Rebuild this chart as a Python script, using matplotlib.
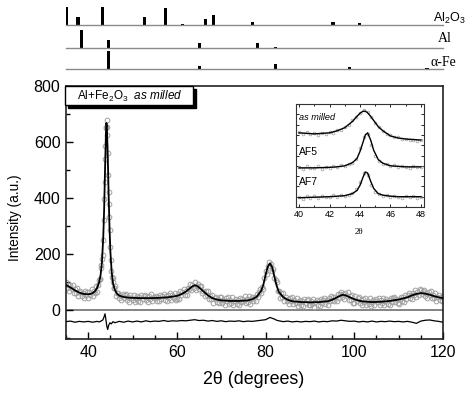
import numpy as np
import matplotlib
matplotlib.use("Agg")
import matplotlib.pyplot as plt
from matplotlib.patches import Rectangle
from matplotlib.ticker import MultipleLocator

plt.rcParams['font.family'] = ['Liberation Sans', 'DejaVu Sans']
plt.rcParams['mathtext.fontset'] = 'custom'
plt.rcParams['mathtext.rm'] = 'Liberation Sans'
plt.rcParams['mathtext.it'] = 'Liberation Sans:italic'

# ---------------- reference stick patterns (2theta, relative intensity) ----
al2o3_pos = [35.2, 37.7, 43.3, 52.6, 57.5, 61.3, 66.5, 68.2, 77.0, 95.2, 101.1]
al2o3_int = [1.00, 0.42, 1.00, 0.45, 0.96, 0.05, 0.35, 0.55, 0.15, 0.15, 0.13]
al_pos = [38.4, 44.6, 65.0, 78.2, 82.3, 98.9]
al_int = [1.00, 0.45, 0.27, 0.27, 0.07, 0.02]
fe_pos = [44.6, 65.0, 82.3, 98.9, 116.4]
fe_int = [1.00, 0.19, 0.30, 0.09, 0.06]
phase_labels = ["Al$_2$O$_3$", "Al", "\u03b1-Fe"]

# ---------------- main pattern: calculated (fit) curve ----------------
fit_2theta = [35, 35.5, 36, 36.5, 37, 37.5, 38, 38.5, 39, 39.5, 40, 40.5, 41, 41.5,
              42, 42.5, 42.8, 43.1, 43.4, 43.6, 43.8, 44.0, 44.1, 44.2, 44.4, 44.6,
              44.8, 45.0, 45.3, 45.6, 46, 46.5, 47, 48, 49, 50, 52, 54, 56, 58, 60,
              61, 62, 63, 63.5, 64, 64.5, 65, 66, 67, 68, 69, 70, 72, 74, 76, 77, 78,
              79, 79.5, 80, 80.5, 81, 81.5, 82, 82.5, 83, 84, 85, 86, 88, 90, 92, 94,
              95, 96, 97, 97.5, 98, 99, 100, 101, 102, 104, 106, 108, 110, 112, 113,
              114, 115, 116, 117, 118, 119, 120]
fit_int = [88, 85, 80, 75, 70, 66, 62, 59, 57, 56, 56, 57, 60, 66,
           78, 100, 125, 170, 260, 360, 500, 630, 668, 660, 560, 420,
           300, 210, 135, 95, 72, 58, 51, 46, 44, 43, 42, 42, 43, 45, 50,
           56, 65, 78, 84, 88, 86, 80, 66, 52, 42, 37, 34, 32, 32, 34, 38, 47,
           68, 90, 125, 155, 166, 152, 118, 86, 64, 45, 36, 31, 28, 27, 28, 31,
           36, 44, 52, 54, 52, 45, 38, 33, 30, 28, 29, 32, 37, 45, 52,
           57, 60, 58, 54, 49, 45, 42]

# ---------------- main pattern: observed points (0.25 deg steps) ----------
obs_2theta = np.arange(35.0, 120.01, 0.25)
obs_int = [
    100, 78, 88, 68, 89, 75, 90, 61, 75, 62, 79, 49, 63, 68, 49, 62, 44, 67, 52, 63,      # 35-
    42, 65, 55, 73, 49, 68, 60, 84, 63, 89, 108, 110, 159, 197, 321, 456, 650, 655, 482, 333,  # 40-
    225, 139, 115, 79, 85, 49, 59, 62, 41, 53, 35, 58, 42, 52, 57, 36, 47, 29, 52, 41,    # 45-
    36, 55, 27, 43, 50, 32, 46, 29, 53, 38, 49, 54, 34, 45, 28, 51, 40, 57, 31, 47,       # 50-
    43, 50, 33, 47, 30, 54, 40, 51, 56, 36, 48, 31, 54, 44, 62, 36, 53, 42, 62, 34,       # 55-
    40, 56, 40, 66, 52, 65, 73, 55, 68, 54, 80, 73, 93, 70, 89, 80, 101, 72, 87, 91,      # 60-
    76, 84, 85, 62, 69, 48, 68, 53, 67, 38, 51, 38, 55, 26, 41, 46, 27, 40, 23, 46,       # 65-
    46, 26, 37, 19, 42, 31, 47, 21, 37, 26, 45, 17, 33, 40, 22, 36, 19, 43, 28, 39,       # 70-
    31, 48, 23, 39, 28, 48, 21, 38, 46, 30, 46, 31, 58, 47, 63, 74, 60, 81, 76, 115,      # 75-
    138, 127, 156, 171, 156, 165, 139, 147, 114, 108, 98, 66, 67, 43, 60, 46, 60, 31, 45, 32,  # 80-
    39, 21, 43, 31, 47, 20, 36, 24, 42, 14, 29, 36, 18, 31, 14, 38, 23, 34, 39, 19,       # 85-
    16, 32, 21, 40, 12, 28, 36, 18, 32, 15, 40, 25, 37, 42, 22, 34, 17, 41, 31, 49,       # 90-
    37, 46, 30, 46, 31, 57, 44, 57, 64, 45, 57, 39, 61, 48, 63, 36, 50, 37, 54, 25,       # 95-
    25, 48, 32, 41, 45, 24, 35, 17, 39, 28, 44, 18, 33, 22, 41, 13, 29, 36, 18, 32,       # 100-
    38, 27, 44, 18, 34, 24, 43, 16, 32, 39, 22, 36, 19, 44, 29, 41, 47, 27, 39, 23,       # 105-
    22, 39, 47, 30, 45, 29, 54, 40, 52, 59, 41, 53, 38, 62, 53, 71, 46, 63, 53, 73,       # 110-
    71, 56, 67, 71, 50, 60, 42, 64, 52, 68, 41, 55, 43, 61, 32, 47, 53, 34, 47, 30,       # 115-
    48]
peak_obs_2theta = [42.6, 42.9, 43.1, 43.35, 43.6, 43.85, 43.9, 44.05, 44.15, 44.3,
                   44.4, 44.6, 44.65, 44.85, 45.1, 45.4, 45.6, 45.9]
peak_obs_int = [112, 148, 182, 250, 395, 540, 585, 655, 680, 625,
                560, 420, 380, 285, 180, 118, 98, 80]

# ---------------- difference curve (offset) ----------------
res_2theta = [35, 36, 37, 38, 39, 40, 41, 42, 42.5, 43, 43.3, 43.6, 43.8, 44.0, 44.2,
              44.4, 44.6, 44.9, 45.2, 45.6, 46, 47, 48, 49, 50, 51, 52, 53, 54, 55, 56,
              57, 58, 59, 60, 61, 62, 63, 64, 65, 66, 67, 68, 69, 70, 71, 72, 73, 74,
              75, 76, 77, 78, 79, 80, 80.5, 81, 81.5, 82, 82.5, 83, 84, 85, 86, 87, 88,
              89, 90, 91, 92, 93, 94, 95, 96, 97, 98, 99, 100, 101, 102, 103, 104, 105,
              106, 107, 108, 109, 110, 111, 112, 113, 114, 115, 116, 117, 118, 119, 120]
res_int = [-42, -40, -44, -41, -43, -41, -44, -41, -43, -39, -36, -24, -14, -35, -58,
           -70, -56, -46, -50, -42, -46, -41, -44, -40, -43, -40, -43, -39, -42, -40, -41,
           -38, -41, -39, -40, -38, -39, -37, -35, -38, -37, -40, -38, -41, -39, -42, -40,
           -41, -39, -42, -40, -41, -39, -37, -35, -31, -27, -30, -33, -37, -39, -42, -40,
           -43, -41, -43, -41, -42, -40, -43, -41, -42, -39, -40, -37, -39, -41, -40,
           -43, -41, -43, -40, -43, -41, -42, -40, -42, -41, -43, -41, -44, -48, -40,
           -37, -36, -39, -41, -44]

# ---------------- inset: the (110) region of three samples ----------------
inset_fit_2theta = [40, 41, 42, 42.5, 43, 43.5, 43.8, 44.0, 44.2, 44.35, 44.5, 44.7,
                    44.9, 45.2, 45.5, 46, 46.5, 47, 48]
inset_fit_milled = [72, 71, 72, 74, 77, 83, 88, 91, 93, 93, 91.5, 88, 84, 78, 74,
                    69, 67, 66, 65]
inset_fit_af5 = [38, 38, 38.5, 39, 40, 43, 47, 54, 63, 70, 72, 65, 55, 46, 42.5, 40,
                 39.5, 39, 39]
inset_fit_af7 = [9, 9.5, 10, 10.5, 11, 13, 16, 21, 29, 34, 33, 25, 18, 13, 11.5, 10.5,
                 10, 10, 10]
inset_obs_2theta = np.arange(40.0, 48.01, 0.25)
inset_obs_milled = [73, 71, 72.5, 70.5, 72, 70, 72, 71, 73, 72, 75, 75, 78, 80, 84, 87,
                    91, 94, 92, 87, 82, 78, 74, 71, 69.5, 68, 67.5, 66, 66.5, 65, 65.5,
                    64.5, 65]
inset_obs_af5 = [39, 37, 39.5, 37.5, 38, 40, 37, 39, 38, 40, 38.5, 41, 40, 42, 43, 47,
                 57, 68, 71, 60, 50, 45, 42, 41.5, 39.5, 41, 38.5, 40, 39, 38, 40, 38.5,
                 39]
inset_obs_af7 = [10, 8, 11, 9, 10.5, 8.5, 11, 9.5, 10, 12, 9.5, 11.5, 11, 12, 14, 17,
                 24, 33, 31, 21, 15, 12.5, 11, 12, 9.5, 11, 10, 8.5, 11, 9.5, 10.5, 9,
                 10]
inset_labels = ["as milled", "AF5", "AF7"]

# ======================= drawing =======================
W, H = 474, 395
fig = plt.figure(figsize=(W / 100, H / 100), dpi=100)

def fx(px):
    return px / W

def fy(py):
    return 1 - py / H

# ---- stick panels ----
panels = [(25, al2o3_pos, al2o3_int), (48, al_pos, al_int), (69, fe_pos, fe_int)]
label_pos = [(449, 18, 'Liberation Sans', 9), (445, 39, 'Liberation Serif', 10),
             (443, 62, 'Liberation Serif', 10)]
for (base, pos, inten), lab, (lx, ly, fam, fs) in zip(panels, phase_labels, label_pos):
    a = fig.add_axes([fx(66), fy(base), fx(443) - fx(66), 20 / H])
    a.bar(pos, inten, width=0.7, color='black', align='center')
    a.axhline(0, color='#8a8a8a', lw=1.0, clip_on=False)
    a.set_xlim(35, 120)
    a.set_ylim(0, 1.1)
    a.axis('off')
    fig.text(fx(lx), fy(ly), lab, ha='center', va='center', fontsize=fs,
             family=[fam, 'DejaVu Sans'])

# ---- main axes ----
ax = fig.add_axes([fx(66), fy(339), fx(443) - fx(66), fy(86) - fy(339)])
ax.axhline(0, color='#7a7a7a', lw=1.3, zorder=1)
ax.plot(obs_2theta, obs_int, 'o', ms=3.4, mfc='none', mec='#a0a0a0', mew=0.7, zorder=2)
ax.plot(peak_obs_2theta, peak_obs_int, 'o', ms=3.4, mfc='none', mec='#a0a0a0', mew=0.7,
        zorder=2)
ax.plot(fit_2theta, fit_int, '-', color='black', lw=1.3, zorder=3)
ax.plot(res_2theta, res_int, '-', color='black', lw=0.9, zorder=3)
ax.set_xlim(35, 120)
ax.set_ylim(-104, 800)
ax.xaxis.set_major_locator(MultipleLocator(20))
ax.xaxis.set_minor_locator(MultipleLocator(5))
ax.yaxis.set_major_locator(MultipleLocator(200))
ax.yaxis.set_minor_locator(MultipleLocator(100))
ax.tick_params(which='both', direction='in', top=False, right=False, labelsize=11.5,
               width=1.0)
ax.tick_params(which='major', length=5, pad=4)
ax.tick_params(which='minor', length=3)
for s in ax.spines.values():
    s.set_linewidth(1.2)
    s.set_color('#222222')

fig.text(fx(15), fy(218), "Intensity (a.u.)", rotation=90, ha='center', va='center',
         fontsize=9.8)
fig.text(fx(254), fy(380), "2\u03b8 (degrees)", ha='center', va='center', fontsize=12.9)

# legend-like box with shadow
bx0, bx1 = (65 - 66) / 377, (193 - 66) / 377
by0, by1 = (339 - 105) / 253, 1.0
dx, dy = 3 / 377, 3 / 253
ax.add_patch(Rectangle((bx0 + dx, by0 - dy), bx1 - bx0, by1 - by0, transform=ax.transAxes,
                       facecolor='black', edgecolor='black', zorder=5, clip_on=False))
ax.add_patch(Rectangle((bx0, by0), bx1 - bx0, by1 - by0, transform=ax.transAxes,
                       facecolor='white', edgecolor='black', lw=1.0, zorder=6,
                       clip_on=False))
ax.text((77 - 66) / 377, (339 - 96) / 253,
        r"Al+Fe$_2$O$_3$  $\mathit{as\ milled}$", transform=ax.transAxes,
        ha='left', va='center', fontsize=8.5, zorder=7)

# ---- inset ----
ins = fig.add_axes([fx(296), fy(207), fx(424) - fx(296), fy(104) - fy(207)])
for obs, fit in [(inset_obs_milled, inset_fit_milled), (inset_obs_af5, inset_fit_af5),
                 (inset_obs_af7, inset_fit_af7)]:
    ins.plot(inset_obs_2theta, obs, 'o', ms=2.0, mfc='none', mec='#9a9a9a', mew=0.5)
    ins.plot(inset_fit_2theta, fit, '-', color='black', lw=1.0)
ins.set_xlim(39.8, 48.2)
ins.set_ylim(0, 100)
ins.xaxis.set_major_locator(MultipleLocator(2))
ins.xaxis.set_minor_locator(MultipleLocator(1))
ins.yaxis.set_major_locator(MultipleLocator(10))
ins.tick_params(which='both', direction='in', top=True, right=True, labelsize=6.5,
                pad=2, width=0.6)
ins.tick_params(which='major', length=2.5)
ins.tick_params(which='minor', length=1.5)
ins.set_yticklabels([])
for s in ins.spines.values():
    s.set_linewidth(0.8)
    s.set_color('#333333')
ins.text(40.0, 87, inset_labels[0], style='italic', fontsize=6.6, ha='left', va='center')
ins.text(40.0, 53, inset_labels[1], fontsize=7.5, ha='left', va='center')
ins.text(40.0, 24, inset_labels[2], fontsize=7.5, ha='left', va='center')
fig.text(fx(359), fy(232), "2\u03b8", ha='center', va='center', fontsize=6.5,
         family=['Liberation Serif', 'DejaVu Serif'])

fig.savefig("out.png", dpi=100)
